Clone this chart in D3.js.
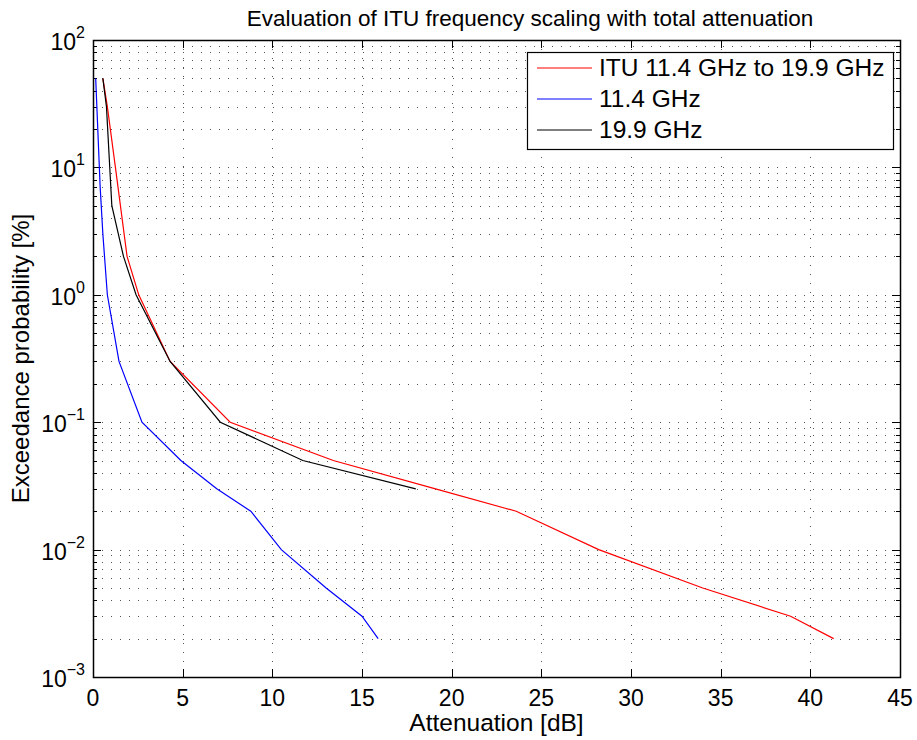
<!DOCTYPE html>
<meta charset="utf-8" />
<style>
  body {
    margin: 0;
    background: #fff;
    font-family: "Liberation Sans", Arial, sans-serif;
  }
  .grid line {
    stroke: #555;
    stroke-width: 1;
    stroke-dasharray: 1, 8;
    shape-rendering: crispEdges;
  }
  .tick-mark {
    stroke: #000;
    stroke-width: 1;
    shape-rendering: crispEdges;
  }
  .series {
    fill: none;
    stroke-width: 1.2;
  }
</style>
<body>
  <script src="https://d3js.org/d3.v7.min.js"></script>
  <script>
    // series: attenuation [dB] vs exceedance probability [%]
    var ituX = [0.55, 0.8, 1.25, 1.9, 2.55, 4.3, 7.65, 13.4, 19.1, 23.6, 28.2, 34.0, 38.9, 41.3];
    var ituY = [50, 30, 10, 2, 1, 0.3, 0.1, 0.05, 0.03, 0.02, 0.01, 0.005, 0.003, 0.002];

    var f114X = [0.15, 0.4, 0.55, 0.8, 1.45, 2.73, 4.9, 6.9, 8.8, 10.5, 13.0, 15.0, 15.9];
    var f114Y = [50, 7, 3, 1, 0.3, 0.1, 0.05, 0.03, 0.02, 0.01, 0.005, 0.003, 0.002];

    var f199X = [0.55, 0.75, 1.05, 1.7, 2.4, 4.3, 7.1, 11.7, 18.0];
    var f199Y = [50, 30, 5, 2, 1, 0.3, 0.1, 0.05, 0.03];

    var seriesNames = ["ITU 11.4 GHz to 19.9 GHz", "11.4 GHz", "19.9 GHz"];
    var seriesColors = ["#ff0000", "#0000ff", "#000000"];

    var xTicks = [0, 5, 10, 15, 20, 25, 30, 35, 40, 45];
    var yDecades = [-3, -2, -1, 0, 1, 2];

    var margin = { top: 40, right: 17, bottom: 63, left: 93 },
      width = 917 - margin.left - margin.right,
      height = 740 - margin.top - margin.bottom;

    var x = d3.scaleLinear().domain([0, 45]).range([0, width]);
    var y = d3.scaleLog().domain([1e-3, 1e2]).range([height, 0]);

    var svg = d3
      .select("body")
      .append("svg")
      .attr("width", 917)
      .attr("height", 740)
      .append("g")
      .attr("transform", "translate(" + margin.left + "," + margin.top + ")");

    // minor log ticks
    var yMinor = [];
    yDecades.slice(0, -1).forEach(function (e) {
      for (var k = 2; k <= 9; k++) yMinor.push(k * Math.pow(10, e));
    });
    var yMajor = yDecades.map(function (e) { return Math.pow(10, e); });

    // grid
    var grid = svg.append("g").attr("class", "grid");
    grid.selectAll(".gx")
      .data(xTicks.slice(1, -1))
      .enter().append("line")
      .attr("x1", function (d) { return Math.round(x(d)) + 0.5; })
      .attr("x2", function (d) { return Math.round(x(d)) + 0.5; })
      .attr("y1", 0).attr("y2", height);
    grid.selectAll(".gy")
      .data(yMinor.concat(yMajor.slice(1, -1)))
      .enter().append("line")
      .attr("x1", 0).attr("x2", width)
      .attr("y1", function (d) { return Math.round(y(d)) + 0.5; })
      .attr("y2", function (d) { return Math.round(y(d)) + 0.5; });

    // tick marks on all four sides, pointing inward
    var ticks = svg.append("g");
    xTicks.forEach(function (d) {
      var px = Math.round(x(d)) + 0.5;
      ticks.append("line").attr("class", "tick-mark")
        .attr("x1", px).attr("x2", px).attr("y1", height).attr("y2", height - 8);
      ticks.append("line").attr("class", "tick-mark")
        .attr("x1", px).attr("x2", px).attr("y1", 0).attr("y2", 8);
    });
    yMajor.concat(yMinor).forEach(function (d) {
      var py = Math.round(y(d)) + 0.5;
      var len = yMajor.indexOf(d) >= 0 ? 8 : 4;
      ticks.append("line").attr("class", "tick-mark")
        .attr("x1", 0).attr("x2", len).attr("y1", py).attr("y2", py);
      ticks.append("line").attr("class", "tick-mark")
        .attr("x1", width).attr("x2", width - len).attr("y1", py).attr("y2", py);
    });

    // data lines
    var line = d3.line()
      .x(function (d) { return x(d[0]); })
      .y(function (d) { return y(d[1]); });

    var allSeries = [
      d3.zip(ituX, ituY),
      d3.zip(f114X, f114Y),
      d3.zip(f199X, f199Y)
    ];
    allSeries.forEach(function (pts, i) {
      svg.append("path")
        .attr("class", "series")
        .style("stroke", seriesColors[i])
        .attr("d", line(pts));
    });

    // axes box
    svg.append("rect")
      .attr("x", 0.5).attr("y", 0.5)
      .attr("width", width).attr("height", height)
      .attr("fill", "none")
      .attr("stroke", "#000")
      .attr("stroke-width", 1.5);

    // x tick labels
    svg.selectAll(".xl")
      .data(xTicks)
      .enter().append("text")
      .attr("x", function (d) { return x(d); })
      .attr("y", height + 29)
      .attr("text-anchor", "middle")
      .style("font-size", "23px")
      .text(function (d) { return d; });

    // y tick labels 10^n
    yDecades.forEach(function (e) {
      var t = svg.append("text")
        .attr("x", -8)
        .attr("y", y(Math.pow(10, e)) + 10)
        .attr("text-anchor", "end")
        .style("font-size", "23px");
      t.append("tspan").text("10");
      t.append("tspan")
        .attr("dy", -12)
        .style("font-size", "16px")
        .text(e < 0 ? "\u2212" + (-e) : e);
    });

    // title and axis labels
    svg.append("text")
      .attr("x", 437)
      .attr("y", -14)
      .attr("text-anchor", "middle")
      .style("font-size", "22.5px")
      .text("Evaluation of ITU frequency scaling with total attenuation");

    svg.append("text")
      .attr("x", width / 2)
      .attr("y", height + 54)
      .attr("text-anchor", "middle")
      .style("font-size", "24.5px")
      .text("Attenuation [dB]");

    svg.append("text")
      .attr("transform", "translate(" + (-64) + "," + height / 2 + ") rotate(-90)")
      .attr("text-anchor", "middle")
      .style("font-size", "24px")
      .text("Exceedance probability [%]");

    // legend
    var legend = svg.append("g").attr("transform", "translate(434,12)");
    legend.append("rect")
      .attr("x", 0.5).attr("y", 0.5)
      .attr("width", 366).attr("height", 97)
      .attr("fill", "#fff")
      .attr("stroke", "#000")
      .attr("stroke-width", 1.2);
    seriesNames.forEach(function (name, i) {
      var ly = 16 + i * 31;
      legend.append("line")
        .attr("x1", 10).attr("x2", 65)
        .attr("y1", ly).attr("y2", ly)
        .style("stroke", seriesColors[i])
        .style("stroke-width", 1.2);
      legend.append("text")
        .attr("x", 72)
        .attr("y", ly + 8)
        .style("font-size", "24.5px")
        .text(name);
    });
  </script>
</body>
